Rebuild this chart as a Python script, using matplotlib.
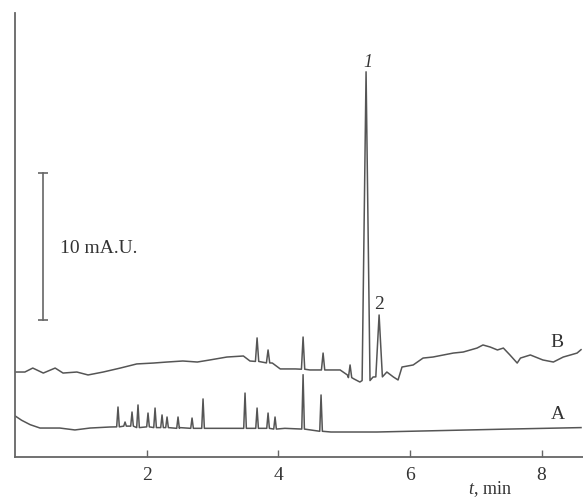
import numpy as np
import matplotlib
matplotlib.use("Agg")
import matplotlib.pyplot as plt

plt.rcParams['font.family'] = ['Liberation Serif', 'DejaVu Serif']
plt.rcParams['mathtext.fontset'] = 'custom'
plt.rcParams['mathtext.it'] = 'Liberation Serif:italic'
plt.rcParams['mathtext.rm'] = 'Liberation Serif'

# trace A: baseline points (time, min ; signal, mA.U.)
base_a_t = [0.0, 0.10, 0.23, 0.38, 0.68, 0.91, 1.14, 1.44, 2.5, 3.2, 4.1, 4.8,
            5.5, 6.5, 7.5, 8.6]
base_a_y = [2.8, 2.5, 2.2, 1.97, 1.97, 1.84, 1.97, 2.04, 2.0, 1.95, 1.95, 1.7,
            1.7, 1.8, 1.9, 2.0]
# trace A: sharp peaks (apex time, apex height, local base)
peak_a_t = [1.565, 1.672, 1.778, 1.869, 2.021, 2.128, 2.234, 2.31, 2.477,
            2.69, 2.857, 3.495, 3.678, 3.845, 3.951, 4.377, 4.65]
peak_a_y = [3.40, 2.38, 3.06, 3.54, 2.99, 3.33, 2.86, 2.72, 2.72,
            2.65, 3.95, 4.35, 3.33, 2.99, 2.72, 5.6, 4.22]
peak_a_b = [2.05, 2.1, 2.1, 2.0, 2.05, 2.0, 2.0, 2.0, 1.95,
            1.95, 1.95, 1.95, 1.95, 1.95, 1.9, 1.9, 1.75]

# trace B: baseline points
base_b_t = [0.0, 0.15, 0.27, 0.43, 0.61, 0.73, 0.94, 1.11, 1.34, 1.60, 1.85,
            2.10, 2.31, 2.55, 2.77, 2.96, 3.22, 3.47, 3.57, 3.91, 4.03, 4.26,
            4.48, 4.79, 4.94, 5.05, 5.15, 5.24, 5.44, 5.65, 5.75, 5.82, 5.88,
            6.05, 6.20, 6.35, 6.51, 6.66, 6.81, 7.02, 7.11, 7.22, 7.33, 7.42,
            7.52, 7.63, 7.68, 7.83, 8.02, 8.18, 8.33, 8.44, 8.54, 8.6]
base_b_y = [5.78, 5.78, 6.05, 5.71, 6.05, 5.71, 5.78, 5.58, 5.78, 6.05, 6.33,
            6.39, 6.46, 6.53, 6.46, 6.60, 6.80, 6.87, 6.53, 6.39, 5.99, 5.99,
            5.92, 5.92, 5.92, 5.58, 5.31, 5.10, 5.44, 5.78, 5.44, 5.24, 6.12,
            6.26, 6.73, 6.80, 6.94, 7.07, 7.14, 7.41, 7.62, 7.48, 7.28, 7.41,
            6.94, 6.39, 6.73, 6.94, 6.60, 6.46, 6.80, 6.94, 7.07, 7.3]
# trace B: peaks
peak_b_t = [3.678, 3.845, 4.377, 4.681, 5.091, 5.334, 5.532]
peak_b_y = [8.10, 7.28, 8.16, 7.07, 6.26, 26.2, 9.66]
peak_b_b = [6.5, 6.4, 5.97, 5.92, 5.4, 5.2, 5.45]
peak_b_w = [0.025, 0.025, 0.025, 0.025, 0.025, 0.06, 0.05]


def build_trace(bt, by, pt, py, pb, hw):
    pts = list(zip(bt, by))
    for t, y, b, w in zip(pt, py, pb, hw):
        pts = [p for p in pts if abs(p[0] - t) > w]
        pts += [(t - w, b), (t, y), (t + w, b)]
    pts.sort()
    return [p[0] for p in pts], [p[1] for p in pts]


ta, ya = build_trace(base_a_t, base_a_y, peak_a_t, peak_a_y, peak_a_b,
                     [0.02] * len(peak_a_t))
tb, yb = build_trace(base_b_t, base_b_y, peak_b_t, peak_b_y, peak_b_b, peak_b_w)

fig = plt.figure(figsize=(5.83, 4.99), dpi=100)
ax = fig.add_axes([15 / 583, 42 / 499, 568 / 583, 444 / 499])

line_c = '#555555'
ax.plot(ta, ya, color=line_c, lw=1.1)
ax.plot(tb, yb, color=line_c, lw=1.1)

# scale bar 10 mA.U.
ax.plot([0.426, 0.426], [9.3, 19.3], color='#666666', lw=1.2)
ax.plot([0.426], [9.3], marker='_', ms=7, color='#666666', mew=1.2)
ax.plot([0.426], [19.3], marker='_', ms=7, color='#666666', mew=1.2)
ax.text(0.68, 14.2, '10 mA.U.', fontsize=14, color='#333333', va='center', ha='left')

# peak labels and trace labels
ax.text(5.36, 26.8, '1', fontsize=13, style='italic', color='#333333', ha='center', va='center')
ax.text(5.53, 10.4, '2', fontsize=14, color='#333333', ha='center', va='center')
ax.text(8.24, 7.8, 'B', fontsize=14, color='#333333', ha='center', va='center')
ax.text(8.25, 2.9, 'A', fontsize=14, color='#333333', ha='center', va='center')

ax.set_xlim(0, 8.63)
ax.set_ylim(0, 30.2)
ax.set_xticks([2, 4, 6, 8])
ax.set_yticks([])
ax.tick_params(axis='x', direction='in', length=5, width=1, colors='#666666',
               labelcolor='#333333', labelsize=14, pad=7)
for s in ['top', 'right']:
    ax.spines[s].set_visible(False)
for s in ['left', 'bottom']:
    ax.spines[s].set_color('#666666')
    ax.spines[s].set_linewidth(1.3)

fig.text(490 / 583, 5 / 499, r'$t$, min', fontsize=13, color='#333333',
         ha='center', va='baseline')

fig.savefig('out.png', dpi=100)
